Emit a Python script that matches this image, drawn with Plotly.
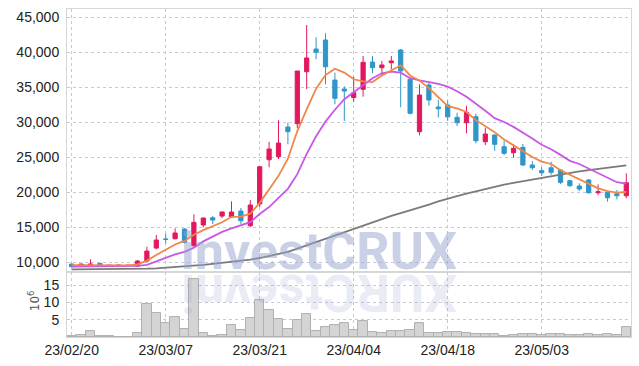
import plotly.graph_objects as go

dates = [
    "2023-02-20", "2023-02-21", "2023-02-22", "2023-02-23", "2023-02-24", "2023-02-27", "2023-02-28",
    "2023-03-02", "2023-03-03", "2023-03-06", "2023-03-07", "2023-03-08", "2023-03-09", "2023-03-10",
    "2023-03-13", "2023-03-14", "2023-03-15", "2023-03-16", "2023-03-17", "2023-03-20", "2023-03-21",
    "2023-03-22", "2023-03-23", "2023-03-24", "2023-03-27", "2023-03-28", "2023-03-29", "2023-03-30",
    "2023-03-31", "2023-04-03", "2023-04-04", "2023-04-05", "2023-04-06", "2023-04-07", "2023-04-10",
    "2023-04-11", "2023-04-12", "2023-04-13", "2023-04-14", "2023-04-17", "2023-04-18", "2023-04-19",
    "2023-04-20", "2023-04-21", "2023-04-24", "2023-04-25", "2023-04-26", "2023-04-27", "2023-04-28",
    "2023-05-02", "2023-05-03", "2023-05-04", "2023-05-08", "2023-05-09", "2023-05-10", "2023-05-11",
    "2023-05-12", "2023-05-15", "2023-05-16", "2023-05-17",
]

open_ = [9760, 9470, 9570, 9860, 9520, 9560, 9550, 9470, 10190, 12040,
         13330, 13370, 14760, 12370, 15330, 16370, 16610, 16470, 17330, 15230,
         18330, 24660, 25090, 29330, 29800, 37230, 40470, 41760, 36040, 34760,
         33540, 34710, 38610, 37800, 38510, 40330, 36140, 28660, 35330, 32190,
         32470, 30710, 29940, 30800, 27230, 28190, 26510, 25660, 26430, 23900,
         23100, 23510, 23190, 21660, 20900, 21760, 19940, 20000, 19800, 19510]
high = [9790, 9780, 10430, 9880, 9620, 9640, 9620, 10330, 12230, 13900,
        14100, 14860, 14860, 16860, 16400, 16610, 17250, 18710, 17760, 18900,
        23660, 27230, 30290, 29960, 37330, 43900, 42140, 42710, 37090, 35140,
        36510, 39470, 39470, 38760, 39470, 40470, 36380, 35430, 35800, 33190,
        33120, 31370, 32370, 31230, 29230, 28290, 27370, 26900, 26900, 24470,
        23560, 24370, 23330, 21800, 21290, 21900, 21140, 20000, 20330, 22710]
low = [9380, 9450, 9500, 9500, 9470, 9500, 9500, 9430, 10050, 11860,
       12710, 13290, 12710, 12230, 15000, 15470, 16330, 16400, 15470, 15040,
       17900, 23570, 24760, 26860, 29140, 34760, 39000, 35430, 32570, 30190,
       32940, 33660, 37000, 36760, 37570, 32140, 31110, 28140, 32370, 30710,
       30200, 29470, 28430, 26990, 26760, 25940, 25330, 24940, 23760, 23190,
       22330, 22510, 21190, 20800, 20190, 19800, 19610, 18670, 19000, 19140]
close = [9380, 9760, 9760, 9520, 9580, 9590, 9580, 10190, 11610, 13190,
         13290, 14190, 12860, 15710, 16330, 16040, 17190, 17190, 15940, 18190,
         23660, 26190, 27040, 28660, 37330, 39190, 40000, 37940, 33430, 34470,
         34210, 38570, 37800, 38190, 38760, 37330, 31290, 33900, 33190, 31940,
         30780, 29940, 31430, 27370, 28330, 26860, 25570, 26290, 23900, 23510,
         22790, 22860, 21430, 20940, 20470, 19940, 20090, 19230, 19510, 21370]

ma_short = [9600, 9600, 9620, 9640, 9620, 9600, 9580, 9700, 10250, 11050,
            11800, 12550, 13060, 13950, 14600, 15130, 15720, 16500, 16520, 16950,
            18500, 20400, 22350, 24800, 28750, 31850, 34800, 36750, 37650, 37100,
            36150, 35850, 35750, 36700, 37450, 38150, 36700, 35950, 34880, 33550,
            32300, 31980, 31480, 30310, 29450, 28600, 27550, 26700, 25900, 25050,
            24400, 24050, 23150, 22500, 21780, 21200, 20570, 20180, 19950, 20050]
ma_mid = [9400, 9400, 9420, 9430, 9440, 9440, 9450, 9500, 9650, 10150,
          10700, 11150, 11500, 12100, 13000, 13700, 14350, 14850, 15250, 15750,
          16900, 17900, 19200, 20500, 22600, 25500, 28000, 30100, 31800, 33300,
          34300, 35300, 36300, 37000, 37250, 37100, 36300, 36000, 35750, 35500,
          35100, 34450, 33650, 32700, 31650, 30600, 30050, 29350, 28550, 27700,
          26800, 26150, 25350, 24500, 24050, 23400, 22700, 22000, 21450, 21250]
ma_long = [9000, 9000, 9000, 9000, 9000, 9000, 9010, 9050, 9100, 9150,
           9230, 9320, 9420, 9520, 9640, 9780, 9920, 10070, 10230, 10400,
           10620, 10880, 11180, 11500, 11950, 12420, 12900, 13380, 13850, 14320,
           14800, 15300, 15780, 16250, 16650, 17030, 17420, 17800, 18250, 18700,
           19130, 19470, 19800, 20150, 20470, 20790, 21100, 21350, 21600, 21840,
           22080, 22330, 22580, 22820, 23000, 23180, 23360, 23530, 23700, 23860]

volume_m = [0.2, 0.5, 1.8, 0.4, 0.2, 0.1, 0.1, 1.25, 9.6, 7.0,
            4.1, 5.9, 2.4, 16.8, 1.0, 0.4, 0.7, 3.6, 1.9, 5.6,
            10.8, 7.9, 5.3, 2.4, 5.0, 6.7, 1.8, 2.9, 3.6, 4.1,
            2.1, 4.7, 1.5, 1.25, 1.8, 1.8, 2.1, 4.1, 1.25, 1.25,
            1.5, 1.35, 1.25, 0.96, 0.87, 0.77, 0.4, 0.7, 0.96, 0.77,
            0.5, 0.96, 0.77, 0.5, 0.5, 0.96, 0.6, 0.77, 0.5, 2.9]

tick_dates = ["2023-02-20", "2023-03-07", "2023-03-21", "2023-04-04", "2023-04-18", "2023-05-03"]
tick_text = ["23/02/20", "23/03/07", "23/03/21", "23/04/04", "23/04/18", "23/05/03"]
price_ticks = [10000, 15000, 20000, 25000, 30000, 35000, 40000, 45000]
vol_ticks = [5, 10, 15]

RED = "#e2185f"
BLUE = "#2f96c9"
GRID = "#c6c9dc"
FRAME = "#d6d6d6"
TICKFONT = dict(family="Liberation Sans, Arial, sans-serif", size=14, color="#222222")

fig = go.Figure()

fig.add_trace(go.Bar(
    x=dates, y=volume_m, xaxis="x2", yaxis="y2",
    marker=dict(color="#d4d4d4", line=dict(color="#b0b0b0", width=1)),
    showlegend=False, hoverinfo="skip"))

fig.add_trace(go.Candlestick(
    x=dates, open=open_, high=high, low=low, close=close,
    increasing=dict(line=dict(color=RED, width=1), fillcolor=RED),
    decreasing=dict(line=dict(color=BLUE, width=1), fillcolor=BLUE),
    whiskerwidth=0, showlegend=False))

fig.add_trace(go.Scatter(x=dates, y=ma_long, mode="lines",
                         line=dict(color="#7a7a7a", width=1.8), showlegend=False))
fig.add_trace(go.Scatter(x=dates, y=ma_mid, mode="lines",
                         line=dict(color="#c957e6", width=1.8), showlegend=False))
fig.add_trace(go.Scatter(x=dates, y=ma_short, mode="lines",
                         line=dict(color="#ef8748", width=1.8), showlegend=False))

axis_common = dict(showline=True, mirror=True, linecolor=FRAME, linewidth=1,
                   gridcolor=GRID, griddash="dot", gridwidth=1, zeroline=False,
                   tickfont=TICKFONT, automargin=False)

fig.update_layout(
    width=639, height=366,
    margin=dict(l=67, r=8, t=9, b=29),
    paper_bgcolor="white", plot_bgcolor="white",
    boxgap=0.36,
    bargap=0,
    xaxis=dict(axis_common, type="category", domain=[0, 1], anchor="y",
               range=[-0.5, 59.5], tickvals=tick_dates, ticktext=tick_text,
               showticklabels=False, rangeslider=dict(visible=False), matches="x2"),
    yaxis=dict(axis_common, domain=[0.198, 1], anchor="x", range=[8614, 46186],
               tickvals=price_ticks, tickformat=",d", ticklabelstandoff=4),
    xaxis2=dict(axis_common, type="category", domain=[0, 1], anchor="y2",
                range=[-0.5, 59.5], tickvals=tick_dates, ticktext=tick_text,
                ticklabelstandoff=0),
    yaxis2=dict(axis_common, domain=[0, 0.198], anchor="x2", range=[0, 18.8],
                tickvals=vol_ticks, ticklabelstandoff=4),
)

fig.add_annotation(text="investCRUX", xref="paper", yref="paper",
                   x=0.447, y=0.163, xanchor="center", yanchor="bottom", showarrow=False,
                   font=dict(family="Roboto, Liberation Sans, sans-serif", size=52,
                             color="rgba(150,162,205,0.5)", weight="bold"))
fig.add_annotation(text="XURCtsevni", xref="paper", yref="paper",
                   x=0.447, y=0.235, xanchor="center", yanchor="top", showarrow=False,
                   textangle=180,
                   font=dict(family="Roboto, Liberation Sans, sans-serif", size=52,
                             color="rgba(150,162,205,0.2)", weight="bold"))
fig.add_annotation(text="10<sup>6</sup>", xref="paper", yref="paper",
                   x=-0.058, y=0.11, xanchor="center", yanchor="middle", showarrow=False,
                   textangle=-90,
                   font=dict(family="DejaVu Sans, sans-serif", size=12, color="#555555"))

fig.write_html("out.html", config={"displayModeBar": False},
               post_script="document.body.style.margin='0';document.body.style.overflow='hidden';")
